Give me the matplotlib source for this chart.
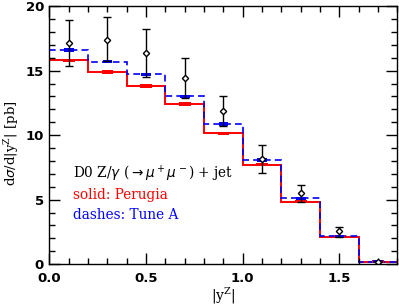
import numpy as np
import matplotlib.pyplot as plt
from matplotlib.ticker import MultipleLocator

# bin edges in |y^Z|
edges = [0.0, 0.2, 0.4, 0.6, 0.8, 1.0, 1.2, 1.4, 1.6, 1.8]
centers = [0.1, 0.3, 0.5, 0.7, 0.9, 1.1, 1.3, 1.5, 1.7]

# MC predictions
perugia = [15.8, 14.9, 13.8, 12.4, 10.15, 7.7, 4.83, 2.13, 0.2]
tune_a = [16.6, 15.7, 14.7, 13.0, 10.85, 8.06, 5.1, 2.16, 0.2]

# D0 data
data = [17.15, 17.35, 16.35, 14.45, 11.9, 8.15, 5.55, 2.55, 0.2]
err_up = [1.8, 1.8, 1.85, 1.55, 1.15, 1.05, 0.62, 0.35, 0.05]
err_dn = [1.8, 1.6, 1.85, 1.55, 1.2, 1.05, 0.72, 0.48, 0.05]

fig = plt.figure(figsize=(3.99, 3.05), dpi=100)
ax = fig.add_axes([0.124, 0.134, 0.872, 0.846])

ax.stairs(perugia, edges, color='#ff0000', lw=1.4, baseline=None)
ax.stairs(tune_a, edges, color='#0000ff', lw=1.2, ls=(0, (4, 2.5)), baseline=None)

# small MC error boxes at bin centres
for c, p, t in zip(centers, perugia, tune_a):
    ax.add_patch(plt.Rectangle((c - 0.03, p - 0.13), 0.06, 0.26, color='#ff0000', lw=0))
    ax.add_patch(plt.Rectangle((c - 0.025, t - 0.13), 0.05, 0.26, color='#0000ff', lw=0))

ax.errorbar(centers, data, yerr=[err_dn, err_up], fmt='D', color='black',
            ms=3.2, mfc='white', mew=1.0, capsize=3, elinewidth=1.0, capthick=1.0)

ax.set_xlim(0, 1.8)
ax.set_ylim(0, 20)
ax.xaxis.set_major_locator(MultipleLocator(0.5))
ax.xaxis.set_minor_locator(MultipleLocator(0.1))
ax.yaxis.set_major_locator(MultipleLocator(5))
ax.yaxis.set_minor_locator(MultipleLocator(1))
ax.xaxis.set_major_formatter(plt.FuncFormatter(lambda v, p: f'{v:.1f}'))
ax.tick_params(which='both', direction='in', top=True, right=True, width=1.0)
ax.tick_params(which='major', length=8, labelsize=9.5)
ax.tick_params(which='minor', length=4)
ax.tick_params(axis='x', pad=6)
ax.tick_params(axis='y', pad=4)
for lab in ax.get_xticklabels() + ax.get_yticklabels():
    lab.set_fontweight('bold')
for s in ax.spines.values():
    s.set_linewidth(1.0)

ax.set_xlabel(r'$|\mathregular{y^Z}|$', fontsize=10, family='DejaVu Serif')
ax.xaxis.set_label_coords(0.5, -0.085)
ax.set_ylabel(r'd$\sigma$/d$|\mathregular{y^Z}|$ [pb]', fontsize=9.5, family='DejaVu Serif')
ax.yaxis.set_label_coords(-0.082, 0.47)

ax.text(0.12, 7.0, r'D0 Z/$\gamma$ ($\rightarrow\mu^+\mu^-$) + jet', fontsize=9.8,
        family='DejaVu Serif', va='center', color='black')
ax.text(0.12, 5.35, 'solid: Perugia', fontsize=9.8, family='DejaVu Serif', va='center', color='#ff0000')
ax.text(0.12, 3.8, 'dashes: Tune A', fontsize=9.8, family='DejaVu Serif', va='center', color='#0000ff')

fig.savefig('out.png', dpi=100)
